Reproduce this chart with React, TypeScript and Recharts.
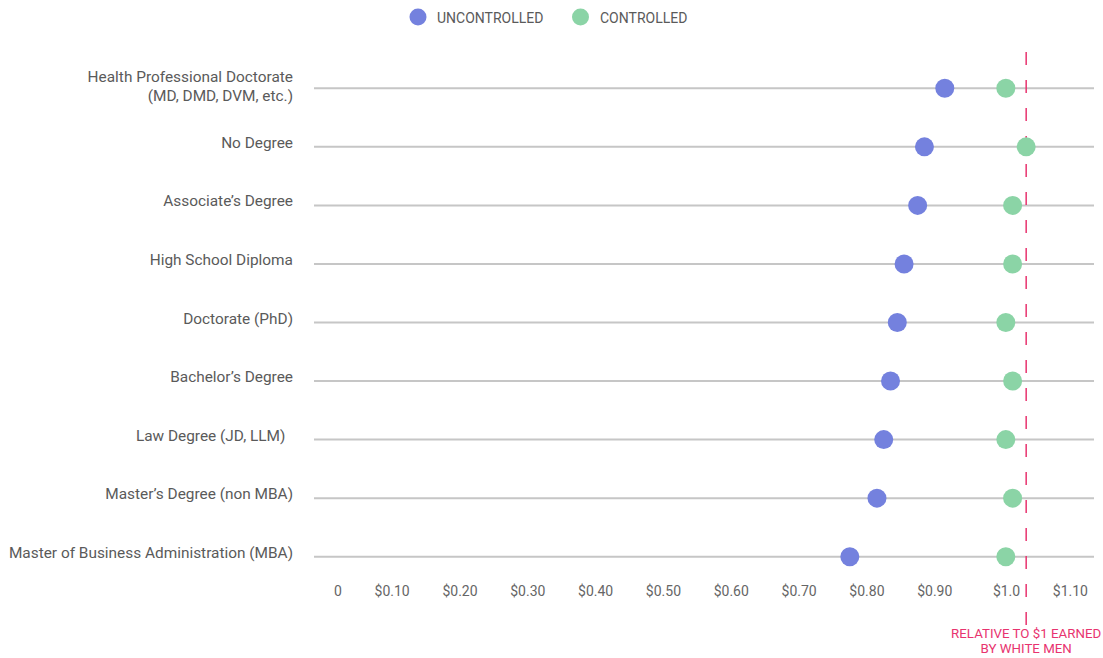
import React from "react";
import {
  ComposedChart,
  Line,
  XAxis,
  YAxis,
  ReferenceLine,
  Legend,
} from "recharts";

// Degree categories, top to bottom
const categories = [
  "Health Professional Doctorate\n(MD, DMD, DVM, etc.)",
  "No Degree",
  "Associate’s Degree",
  "High School Diploma",
  "Doctorate (PhD)",
  "Bachelor’s Degree",
  "Law Degree (JD, LLM)  ",
  "Master’s Degree (non MBA)",
  "Master of Business Administration (MBA)",
];

// Earnings per $1 earned by white men
const uncontrolled = [0.88, 0.85, 0.84, 0.82, 0.81, 0.8, 0.79, 0.78, 0.74];
const controlled = [0.97, 1.0, 0.98, 0.98, 0.97, 0.98, 0.97, 0.98, 0.97];

const xTicks = [0, 0.1, 0.2, 0.3, 0.4, 0.5, 0.6, 0.7, 0.8, 0.9, 1.0, 1.1];
const xTickLabels = [
  "0", "$0.10", "$0.20", "$0.30", "$0.40", "$0.50",
  "$0.60", "$0.70", "$0.80", "$0.90", "$1.0", "$1.10",
];

const seriesNames = ["UNCONTROLLED", "CONTROLLED"];
const referenceValue = 1.0;
const referenceNote = ["RELATIVE TO $1 EARNED", "BY WHITE MEN"];

const BLUE = "#7481de";
const GREEN = "#8bd4a6";
const PINK = "#e8336f";
const FONT = "Roboto, 'Noto Sans', sans-serif";

const data = categories.map((name, i) => ({
  name,
  uncontrolled: uncontrolled[i],
  controlled: controlled[i],
}));

const makeDot = (color: string) => (props: any) => {
  const { cx, cy, index } = props;
  if (cx == null || cy == null) return <g key={index} />;
  return <circle key={index} cx={cx} cy={cy} r={9.5} fill={color} />;
};

const YTick = (props: any) => {
  const { x, y, payload } = props;
  const lines = String(payload.value).split("\n");
  const tx = x - 13;
  if (lines.length > 1) {
    return (
      <g>
        <text x={tx} y={y - 6} textAnchor="end" fontSize={15.4} fill="#5a5a5a" fontFamily={FONT}>
          {lines[0]}
        </text>
        <text x={tx} y={y + 12.5} textAnchor="end" fontSize={15.4} fill="#5a5a5a" fontFamily={FONT}>
          {lines[1]}
        </text>
      </g>
    );
  }
  return (
    <text
      x={tx}
      y={y + 1}
      textAnchor="end"
      fontSize={15.4}
      fill="#5a5a5a"
      fontFamily={FONT}
      style={{ whiteSpace: "pre" }}
    >
      {lines[0]}
    </text>
  );
};

const XTick = (props: any) => {
  const { x, y, payload } = props;
  const idx = xTicks.findIndex((t) => Math.abs(t - payload.value) < 1e-9);
  return (
    <text x={x - 6} y={y + 2} textAnchor="end" fontSize={14} fill="#666" fontFamily={FONT}>
      {idx >= 0 ? xTickLabels[idx] : ""}
    </text>
  );
};

const LegendContent = () => (
  <svg width={1103} height={34} style={{ display: "block" }}>
    <circle cx={418} cy={17} r={8.5} fill={BLUE} />
    <text x={437} y={22.5} fontSize={14} fill="#5a5a5a" fontFamily={FONT}>
      {seriesNames[0]}
    </text>
    <circle cx={580.5} cy={17} r={8.5} fill={GREEN} />
    <text x={600} y={22.5} fontSize={14} fill="#5a5a5a" fontFamily={FONT}>
      {seriesNames[1]}
    </text>
  </svg>
);

const RefShape = (props: any) => {
  const x = props.x1;
  return (
    <g>
      <line
        x1={x}
        x2={x}
        y1={52}
        y2={640}
        stroke={PINK}
        strokeWidth={1.5}
        strokeDasharray="13 15"
      />
      <text x={x} y={638} textAnchor="middle" fontSize={13.3} fill={PINK} fontFamily={FONT}>
        {referenceNote[0]}
      </text>
      <text x={x} y={653} textAnchor="middle" fontSize={13.3} fill={PINK} fontFamily={FONT}>
        {referenceNote[1]}
      </text>
    </g>
  );
};

export default function App() {
  return (
    <div style={{ position: "absolute", left: 0, top: 0, background: "#fff" }}>
      <ComposedChart
        width={1103}
        height={658}
        data={data}
        layout="vertical"
        margin={{ top: 25, right: 9, bottom: 42, left: 0 }}
      >
        <Legend
          verticalAlign="top"
          align="left"
          content={<LegendContent />}
          wrapperStyle={{ left: 0, top: 0, width: 1103, height: 34 }}
        />
        <XAxis
          type="number"
          domain={[-0.05, 1.1]}
          ticks={xTicks}
          axisLine={false}
          tickLine={false}
          height={30}
          tick={<XTick />}
          interval={0}
        />
        <YAxis
          type="category"
          dataKey="name"
          width={314}
          axisLine={false}
          tickLine={false}
          tick={<YTick />}
          interval={0}
          padding={{ top: 29.3, bottom: 29.3 }}
        />
        {/* one rule per degree row */}
        {categories.map((c) => (
          <ReferenceLine key={c} y={c} stroke="#c6c6c6" strokeWidth={2} />
        ))}
        <ReferenceLine x={referenceValue} shape={<RefShape />} />
        <Line
          dataKey="uncontrolled"
          name={seriesNames[0]}
          stroke="none"
          dot={makeDot(BLUE)}
          activeDot={false}
          isAnimationActive={false}
        />
        <Line
          dataKey="controlled"
          name={seriesNames[1]}
          stroke="none"
          dot={makeDot(GREEN)}
          activeDot={false}
          isAnimationActive={false}
        />
      </ComposedChart>
    </div>
  );
}
